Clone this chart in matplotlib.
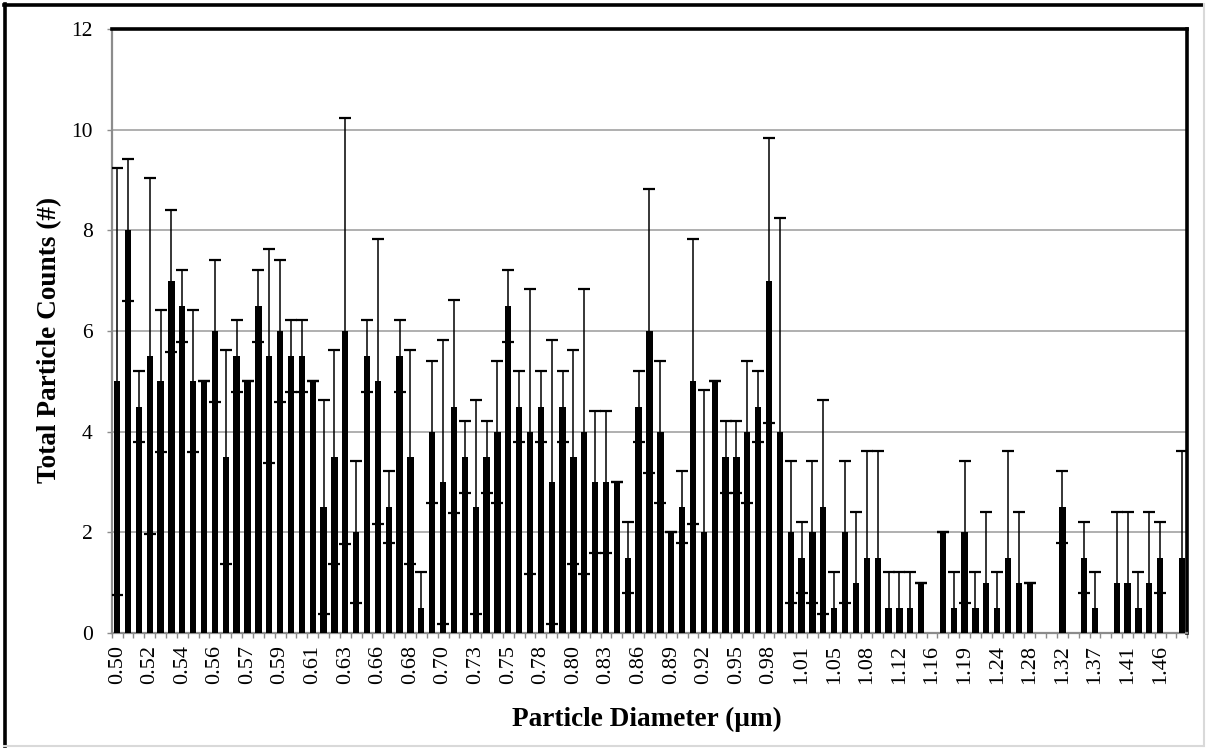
import matplotlib
matplotlib.use("Agg")
import matplotlib.pyplot as plt
from matplotlib.lines import Line2D
import numpy as np

# Tick labels shown on x axis (every 3rd size bin)
tick_labels = ["0.50", "0.52", "0.54", "0.56", "0.57", "0.59", "0.61", "0.63",
               "0.66", "0.68", "0.70", "0.73", "0.75", "0.78", "0.80", "0.83",
               "0.86", "0.89", "0.92", "0.95", "0.98", "1.01", "1.05", "1.08",
               "1.12", "1.16", "1.19", "1.24", "1.28", "1.32", "1.37", "1.41",
               "1.46"]

# Particle counts per size bin (99 bins)
counts = [5, 8, 4.5, 5.5, 5, 7, 6.5, 5, 5, 6,
          3.5, 5.5, 5, 6.5, 5.5, 6, 5.5, 5.5, 5, 2.5,
          3.5, 6, 2, 5.5, 5, 2.5, 5.5, 3.5, 0.5, 4,
          3, 4.5, 3.5, 2.5, 3.5, 4, 6.5, 4.5, 4, 4.5,
          3, 4.5, 3.5, 4, 3, 3, 3, 1.5, 4.5, 6,
          4, 2, 2.5, 5, 2, 5, 3.5, 3.5, 4, 4.5,
          7, 4, 2, 1.5, 2, 2.5, 0.5, 2, 1, 1.5,
          1.5, 0.5, 0.5, 0.5, 1, 0, 2, 0.5, 2, 0.5,
          1, 0.5, 1.5, 1, 1, 0, 0, 2.5, 0, 1.5,
          0.5, 0, 1, 1, 0.5, 1, 1.5, 0, 1.5]

# Error (standard deviation) per bin
errors = [4.24, 1.41, 0.71, 3.54, 1.41, 1.41, 0.71, 1.41, 0, 1.41,
          2.12, 0.71, 0, 0.71, 2.12, 1.41, 0.71, 0.71, 0, 2.12,
          2.12, 4.24, 1.41, 0.71, 2.83, 0.71, 0.71, 2.12, 0.71, 1.41,
          2.83, 2.12, 0.71, 2.12, 0.71, 1.41, 0.71, 0.71, 2.83, 0.71,
          2.83, 0.71, 2.12, 2.83, 1.41, 1.41, 0, 0.71, 0.71, 2.83,
          1.41, 0, 0.71, 2.83, 2.83, 0, 0.71, 0.71, 1.41, 0.71,
          2.83, 4.24, 1.41, 0.71, 1.41, 2.12, 0.71, 1.41, 1.41, 2.12,
          2.12, 0.71, 0.71, 0.71, 0, 0, 0, 0.71, 1.41, 0.71,
          1.41, 0.71, 2.12, 1.41, 0, 0, 0, 0.71, 0, 0.71,
          0.71, 0, 1.41, 1.41, 0.71, 1.41, 0.71, 0, 2.12]

y_ticks = [0, 2, 4, 6, 8, 10, 12]

plt.rcParams['font.family'] = ['Liberation Serif', 'DejaVu Serif']

W, H = 1206, 749
fig = plt.figure(figsize=(W / 100, H / 100), dpi=100)
ax = fig.add_axes([111.7 / W, 1 - 633 / H, (1187.3 - 111.7) / W, (633 - 29) / H])

x = np.arange(len(counts))
c = np.array(counts, dtype=float)
e = np.array(errors, dtype=float)

ax.bar(x, c, width=0.58, color='black', zorder=3)
mask = c > 0
ax.errorbar(x[mask], c[mask], yerr=e[mask], fmt='none', ecolor='black',
            elinewidth=1.1, capsize=4.6, capthick=1.6, zorder=4)

ax.set_xlim(-0.5, len(counts) - 0.5)
ax.set_ylim(0, 12)
ax.set_yticks(y_ticks)
ax.set_yticklabels([str(v) for v in y_ticks], fontsize=15.5)
ax.yaxis.grid(True, color='#9a9a9a', linewidth=1.1, zorder=0)
ax.set_axisbelow(True)

label_pos = np.arange(0, len(counts), 3)[:len(tick_labels)]
ax.set_xticks(label_pos)
ax.set_xticklabels(tick_labels, rotation=90, fontsize=16)
ax.set_xticks(np.arange(-0.5, len(counts)), minor=True)
ax.tick_params(axis='x', which='major', length=0, pad=9)
ax.tick_params(axis='x', which='minor', length=3.6, color='#8c8c8c', width=1)
ax.tick_params(axis='y', length=3.6, color='#8c8c8c', width=1, pad=10)

for s in ['top', 'right']:
    ax.spines[s].set_color('black')
    ax.spines[s].set_linewidth(2.6)
for s in ['left', 'bottom']:
    ax.spines[s].set_color('#8c8c8c')
    ax.spines[s].set_linewidth(1.6)

xl = fig.text(647 / W, 1 - 719 / H, "Particle Diameter (µm)", ha='center', va='center',
              fontsize=20, fontweight='bold')
yl = fig.text(50 / W, 1 - 340 / H, "Total Particle Counts (#)", ha='center', va='center',
              rotation=90, fontsize=20, fontweight='bold')
# fit the axis-title size so the x title spans ~270 px like the reference
fig.canvas.draw()
r = fig.canvas.get_renderer()
wx = xl.get_window_extent(r).width
fs = 20 * 270.0 / wx
yl.set_fontsize(fs)
xl.set_fontsize(fs)

# chart-area frame
fig.add_artist(Line2D([4 / W, 1203 / W], [1 - 4.5 / H, 1 - 4.5 / H], color='black', linewidth=2.6, transform=fig.transFigure))
fig.add_artist(Line2D([4.5 / W, 4.5 / W], [1 - 4 / H, 1 - 746 / H], color='black', linewidth=2.6, transform=fig.transFigure))
fig.add_artist(Line2D([4 / W, 1203 / W], [1 - 746 / H, 1 - 746 / H], color='#d9d9d9', linewidth=1.5, transform=fig.transFigure))
fig.add_artist(Line2D([1203.5 / W, 1203.5 / W], [1 - 4 / H, 1 - 746 / H], color='#d9d9d9', linewidth=1.5, transform=fig.transFigure))

fig.savefig("out.png", dpi=100)
